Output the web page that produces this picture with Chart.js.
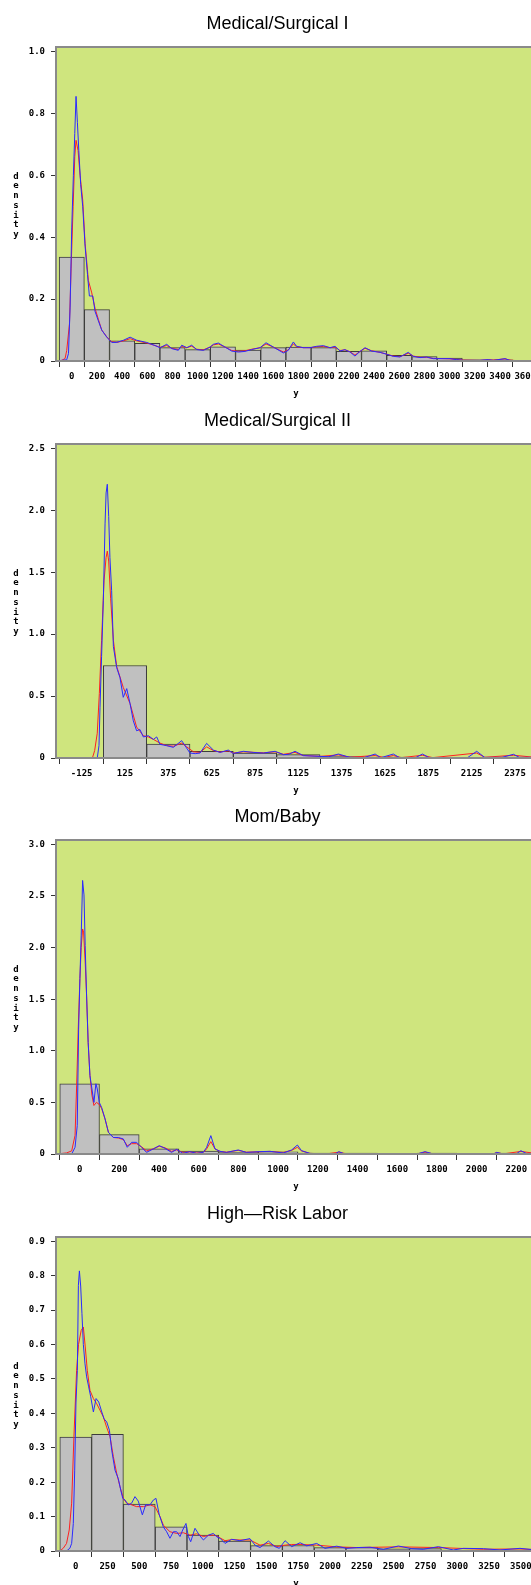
<!DOCTYPE html>
<html>
<head>
<meta charset="utf-8">
<script src="https://cdn.jsdelivr.net/npm/chart.js@4/dist/chart.umd.min.js"></script>
<style>
  html, body { margin: 0; padding: 0; background: #fff; overflow: hidden; }
  body { width: 531px; height: 1585px; position: relative; }
  canvas { position: absolute; left: 0; }
</style>
</head>
<body>
<canvas id="c1" width="555" height="400" style="top:0px"></canvas>
<canvas id="c2" width="555" height="400" style="top:397px"></canvas>
<canvas id="c3" width="555" height="400" style="top:793px"></canvas>
<canvas id="c4" width="555" height="400" style="top:1190px"></canvas>
<script>
// ---- Medical/Surgical I ----
const p1Title = 'Medical/Surgical I';
const p1BinStart = -100, p1BinWidth = 200;
const p1Bins = [0.336, 0.166, 0.065, 0.057, 0.043, 0.037, 0.046, 0.035, 0.043, 0.045, 0.043, 0.031, 0.033, 0.018, 0.014, 0.0097, 0.004, 0.004];
const p1XTicks = [0, 200, 400, 600, 800, 1000, 1200, 1400, 1600, 1800, 2000, 2200, 2400, 2600, 2800, 3000, 3200, 3400, 3600];
const p1YTicks = [0, 0.2, 0.4, 0.6, 0.8, 1.0];
const p1Blue = [[-125,0],[-40,0.004],[-26,0.024],[-13,0.174],[0,0.43],[13,0.6],[24,0.735],[34,0.855],[45,0.77],[56,0.68],[71,0.57],[87,0.5],[106,0.37],[125,0.28],[140,0.21],[167,0.21],[185,0.16],[211,0.13],[238,0.1],[278,0.077],[317,0.06],[357,0.06],[410,0.067],[463,0.077],[516,0.067],[595,0.06],[661,0.05],
  [701,0.043],[754,0.054],[794,0.04],[846,0.0345],[873,0.051],[913,0.043],[952,0.051],[992,0.037],[1045,0.0345],[1098,0.045],[1124,0.054],[1164,0.058],[1217,0.045],[1270,0.032],[1323,0.029],[1375,0.031],[1428,0.037],[1495,0.043],[1542,0.059],[1600,0.045],[1680,0.026],[1719,0.0345],[1759,0.0615],[1785,0.0475],[1838,0.043],[1891,0.043],[1944,0.0475],[1997,0.0496],[2050,0.043],[2090,0.0475],[2129,0.0324],[2169,0.0367],[2209,0.029],[2248,0.016],[2288,0.031],[2328,0.043],[2381,0.032],[2447,0.028],[2500,0.022],[2552,0.015],[2605,0.013],[2671,0.028],[2711,0.015],[2764,0.011],[2817,0.013],[2870,0.0076],[2923,0.0076],[3002,0.0076],[3055,0.0044],[3108,0.0022],[3240,0.0022],[3306,0.0044],[3346,0.002],[3439,0.0076],[3478,0.002],[3560,0],[3685,0]];
const p1Red = [[-125,0],[-80,0.002],[-53,0.008],[-40,0.034],[-18,0.12],[-5,0.3],[11,0.5],[24,0.66],[34,0.713],[50,0.68],[66,0.6],[87,0.52],[106,0.38],[132,0.26],[159,0.22],[185,0.17],[211,0.135],[238,0.1],[278,0.078],[317,0.062],[357,0.06],[410,0.065],[463,0.072],[516,0.065],[595,0.058],[661,0.05],
  [701,0.044],[754,0.05],[794,0.041],[846,0.037],[873,0.047],[913,0.043],[952,0.048],[992,0.038],[1045,0.036],[1098,0.045],[1124,0.052],[1164,0.055],[1217,0.045],[1270,0.034],[1323,0.031],[1375,0.033],[1428,0.038],[1495,0.043],[1542,0.055],[1600,0.045],[1680,0.029],[1719,0.036],[1759,0.055],[1785,0.046],[1838,0.043],[1891,0.043],[1944,0.046],[1997,0.047],[2050,0.043],[2090,0.045],[2129,0.034],[2169,0.036],[2209,0.03],[2248,0.019],[2288,0.031],[2328,0.041],[2381,0.033],[2447,0.028],[2500,0.022],[2552,0.016],[2605,0.014],[2671,0.025],[2711,0.016],[2764,0.012],[2817,0.012],[2870,0.008],[2923,0.008],[3002,0.007],[3055,0.005],[3108,0.003],[3240,0.002],[3306,0.004],[3346,0.003],[3439,0.007],[3478,0.003],[3560,0],[3685,0]];

// ---- Medical/Surgical II ----
const p2Title = 'Medical/Surgical II';
const p2BinStart = 0, p2BinWidth = 250;
const p2Bins = [0.747, 0.113, 0.053, 0.04, 0.027, 0.013, 0.008, 0.005, 0.005, 0.008];
const p2XTicks = [-125, 125, 375, 625, 875, 1125, 1375, 1625, 1875, 2125, 2375];
const p2YTicks = [0, 0.5, 1.0, 1.5, 2.0, 2.5];
const p2Blue = [[-273,0],[-35,0],[-25,0.1],[-19,0.41],[-10,0.82],[0,1.27],[10,1.89],[16,2.14],[23,2.21],[31,1.95],[38,1.62],[48,1.35],[58,0.9],[77,0.73],[96,0.65],[115,0.49],[135,0.56],[154,0.44],[173,0.3],[192,0.22],[211,0.23],[231,0.17],[260,0.18],[289,0.15],[308,0.17],[327,0.11],[365,0.1],[404,0.086],[452,0.14],[471,0.1],[500,0.04],[530,0.035],[558,0.04],[596,0.118],[635,0.064],[673,0.045],[721,0.064],[750,0.037],[808,0.054],[865,0.045],[923,0.04],[991,0.054],[1039,0.027],[1070,0.03],[1106,0.054],[1154,0.019],[1250,0.013],[1300,0.01],[1356,0.032],[1423,0.005],[1500,0.002],[1568,0.032],[1600,0.002],[1673,0.032],[1710,0.002],[1800,0.002],[1841,0.032],[1880,0.002],[2100,0.002],[2154,0.054],[2200,0.005],[2300,0.005],[2366,0.03],[2400,0.005],[2496,0.005]];
const p2Red = [[-273,0],[-63,0],[-50,0.06],[-35,0.2],[-23,0.52],[-10,0.95],[4,1.43],[16,1.62],[23,1.67],[31,1.59],[42,1.29],[58,0.95],[77,0.74],[115,0.57],[154,0.44],[192,0.25],[231,0.18],[260,0.17],[289,0.15],[327,0.12],[365,0.1],[404,0.095],[452,0.12],[481,0.09],[520,0.05],[558,0.045],[596,0.09],[635,0.06],[673,0.048],[721,0.058],[750,0.04],[808,0.05],[923,0.042],[991,0.05],[1039,0.03],[1106,0.045],[1154,0.02],[1250,0.013],[1356,0.025],[1423,0.006],[1568,0.02],[1620,0.004],[1673,0.02],[1720,0.003],[1841,0.022],[1900,0.003],[2154,0.04],[2200,0.006],[2366,0.022],[2496,0.005]];

// ---- Mom/Baby ----
const p3Title = 'Mom/Baby';
const p3BinStart = -100, p3BinWidth = 200;
const p3Bins = [0.68, 0.187, 0.049, 0.028, 0.016, 0.022, 0.01, 0.01, 0, 0.01, 0, 0.01];
const p3XTicks = [0, 200, 400, 600, 800, 1000, 1200, 1400, 1600, 1800, 2000, 2200];
const p3YTicks = [0, 0.5, 1.0, 1.5, 2.0, 2.5, 3.0];
const p3Blue = [[-119,0],[-40,0],[-23,0.065],[-12,0.275],[-5,1.21],[1.5,1.7],[8,2.12],[15,2.65],[22,2.51],[28,2.02],[35,1.54],[43,1.08],[52,0.76],[62,0.63],[72,0.5],[82,0.68],[89,0.63],[99,0.5],[111,0.45],[128,0.34],[145,0.21],[170,0.16],[195,0.16],[220,0.146],[240,0.065],[262,0.113],[287,0.113],[312,0.065],[337,0.016],[371,0.049],[401,0.081],[430,0.055],[463,0.016],[489,0.045],[520,0.006],[555,0.023],[590,0.006],[623,0.016],[640,0.065],[661,0.178],[682,0.049],[707,0.026],[740,0.016],[799,0.039],[840,0.016],[908,0.023],[959,0.026],[1026,0.01],[1068,0.039],[1097,0.087],[1118,0.032],[1160,0.006],[1244,0],[1290,0.004],[1306,0.023],[1330,0.004],[1345,0],[1700,0],[1740,0.023],[1782,0],[2084,0],[2101,0.016],[2134,0],[2200,0.002],[2223,0.032],[2250,0.005],[2299,0.006]];
const p3Red = [[-119,0],[-66,0.01],[-40,0.03],[-23,0.18],[-15,0.66],[-7,1.21],[1.5,1.7],[8,2.0],[15,2.18],[20,2.15],[28,1.86],[35,1.54],[43,1.08],[52,0.76],[62,0.57],[72,0.47],[85,0.5],[99,0.48],[111,0.44],[128,0.34],[145,0.21],[170,0.16],[195,0.155],[220,0.14],[240,0.08],[262,0.1],[287,0.1],[312,0.07],[337,0.03],[371,0.05],[401,0.075],[430,0.06],[463,0.025],[489,0.04],[520,0.015],[555,0.02],[590,0.01],[623,0.015],[640,0.05],[661,0.12],[682,0.05],[707,0.025],[740,0.018],[799,0.035],[840,0.018],[908,0.022],[959,0.025],[1026,0.015],[1068,0.035],[1097,0.065],[1118,0.03],[1160,0.006],[1244,0.001],[1306,0.018],[1345,0.001],[1700,0.001],[1740,0.018],[1782,0.001],[2084,0.001],[2101,0.014],[2134,0.001],[2223,0.025],[2299,0.005]];

// ---- High-Risk Labor ----
const p4Title = 'High\u2014Risk Labor';
const p4BinStart = -125, p4BinWidth = 250;
const p4Bins = [0.331, 0.339, 0.1365, 0.0706, 0.0465, 0.029, 0.0155, 0.016, 0.0097, 0.0097, 0.006, 0.007, 0.003, 0.002, 0.003];
const p4XTicks = [0, 250, 500, 750, 1000, 1250, 1500, 1750, 2000, 2250, 2500, 2750, 3000, 3250, 3500];
const p4YTicks = [0, 0.1, 0.2, 0.3, 0.4, 0.5, 0.6, 0.7, 0.8, 0.9];
const p4Blue = [[-155,0],[-72,0],[-46,0.008],[-32,0.022],[-19,0.08],[-8,0.235],[2,0.43],[13,0.525],[21,0.772],[29,0.814],[39,0.77],[49,0.69],[60,0.6],[73,0.544],[86,0.506],[102,0.477],[118,0.448],[139,0.404],[160,0.443],[181,0.433],[205,0.404],[223,0.384],[244,0.375],[265,0.351],[283,0.293],[309,0.235],[335,0.21],[354,0.177],[370,0.153],[388,0.148],[414,0.134],[440,0.139],[466,0.158],[492,0.145],[524,0.105],[550,0.134],[584,0.134],[610,0.148],[631,0.153],[657,0.105],[689,0.07],[715,0.056],[741,0.037],[768,0.056],[794,0.056],[820,0.042],[841,0.061],[867,0.08],[886,0.042],[904,0.027],[938,0.066],[972,0.046],[1004,0.032],[1043,0.046],[1082,0.051],[1110,0.041],[1135,0.037],[1174,0.022],[1226,0.034],[1291,0.03],[1370,0.036],[1410,0.017],[1449,0.01],[1515,0.029],[1567,0.0126],[1601,0.0077],[1646,0.03],[1698,0.0126],[1764,0.024],[1816,0.015],[1895,0.022],[1960,0.0077],[2052,0.014],[2131,0.0077],[2209,0.01],[2314,0.011],[2419,0.0048],[2537,0.0145],[2642,0.0068],[2733,0.005],[2851,0.0126],[2969,0.003],[3048,0.0077],[3205,0.0068],[3336,0.003],[3493,0.0077],[3619,0.003]];
const p4Red = [[-155,0],[-124,0],[-98,0.008],[-72,0.022],[-51,0.061],[-32,0.139],[-14,0.332],[7,0.525],[22,0.6],[43,0.641],[60,0.651],[75,0.593],[91,0.525],[112,0.467],[139,0.443],[165,0.428],[191,0.409],[217,0.39],[243,0.36],[270,0.332],[296,0.274],[322,0.226],[348,0.187],[374,0.153],[401,0.139],[440,0.134],[479,0.129],[532,0.129],[584,0.134],[623,0.129],[663,0.1],[689,0.075],[741,0.056],[794,0.051],[846,0.053],[899,0.046],[951,0.05],[1004,0.042],[1056,0.046],[1095,0.046],[1174,0.03],[1226,0.033],[1291,0.032],[1370,0.032],[1449,0.017],[1515,0.022],[1580,0.013],[1646,0.017],[1698,0.019],[1764,0.019],[1895,0.017],[2052,0.012],[2209,0.01],[2537,0.012],[2851,0.01],[3205,0.005],[3493,0.006],[3619,0.004]];

const tickFont = { family: '"DejaVu Sans Mono", monospace', size: 9, weight: 'bold' };

// green plot area, grey frame, title and the stacked "density" label
const framePlugin = {
  id: 'frame',
  beforeDraw(chart) {
    const a = chart.chartArea, ctx = chart.ctx;
    ctx.save();
    ctx.fillStyle = '#cfe57e';
    ctx.fillRect(a.left, a.top, a.right - a.left, a.bottom - a.top);
    ctx.restore();
  },
  afterDraw(chart, args, opts) {
    const a = chart.chartArea, ctx = chart.ctx;
    ctx.save();
    ctx.strokeStyle = '#8a8a8a';
    ctx.lineWidth = 2;
    ctx.strokeRect(a.left, a.top, a.right - a.left, a.bottom - a.top);

    ctx.fillStyle = '#000';
    ctx.font = '18px "Liberation Sans", Arial, sans-serif';
    ctx.textAlign = 'center';
    ctx.textBaseline = 'alphabetic';
    ctx.fillText(opts.title, 277.5, 28.5);

    ctx.font = 'bold 9px "DejaVu Sans Mono", monospace';
    ctx.textBaseline = 'middle';
    const word = 'density';
    for (let i = 0; i < word.length; i++) {
      ctx.fillText(word[i], 16, 205.5 + (i - 3) * 9.7);
    }
    ctx.fillText('y', (a.left + a.right) / 2, a.bottom + 33);
    ctx.restore();
  }
};

function makeChart(id, title, binStart, binWidth, bins, red, blue, xMin, xMax, xTicks, yMax, yTicks) {
  const barData = bins.map((h, i) => ({ x: binStart + binWidth * (i + 0.5), y: h }));
  new Chart(document.getElementById(id), {
    type: 'bar',
    data: {
      datasets: [
        {
          type: 'line', data: blue.map(p => ({ x: p[0], y: p[1] })),
          borderColor: '#2a2aff', borderWidth: 1, pointRadius: 0, tension: 0, order: 1
        },
        {
          type: 'line', data: red.map(p => ({ x: p[0], y: p[1] })),
          borderColor: '#ff2020', borderWidth: 1, pointRadius: 0, tension: 0, order: 2
        },
        {
          type: 'bar', data: barData,
          backgroundColor: '#c0c0c0', borderColor: '#3c3c3c', borderWidth: 1,
          barPercentage: 1.0, categoryPercentage: 1.0, order: 3
        }
      ]
    },
    options: {
      responsive: false,
      animation: false,
      events: [],
      layout: { padding: { top: 47, right: 19, left: 0, bottom: 0 } },
      plugins: {
        legend: { display: false },
        title: { display: false },
        tooltip: { enabled: false },
        frame: { title: title }
      },
      scales: {
        x: {
          type: 'linear', min: xMin, max: xMax, offset: false,
          afterBuildTicks: s => { s.ticks = xTicks.map(v => ({ value: v })); },
          afterFit: s => { s.height = 39; },
          grid: { display: true, drawOnChartArea: false, drawTicks: true, tickLength: 6, color: '#333', lineWidth: 1 },
          border: { display: false },
          ticks: { font: tickFont, color: '#000', padding: 4, maxRotation: 0, autoSkip: false, callback: v => String(v) }
        },
        y: {
          type: 'linear', min: 0, max: yMax,
          afterBuildTicks: s => { s.ticks = yTicks.map(v => ({ value: v })); },
          afterFit: s => { s.width = 56; },
          grid: { display: true, drawOnChartArea: false, drawTicks: true, tickLength: 5, color: '#333', lineWidth: 1 },
          border: { display: false },
          ticks: { font: tickFont, color: '#000', padding: 6, autoSkip: false, callback: v => (v === 0 ? '0' : v.toFixed(1)) }
        }
      }
    },
    plugins: [framePlugin]
  });
}

makeChart('c1', p1Title, p1BinStart, p1BinWidth, p1Bins, p1Red, p1Blue, -125, 3685, p1XTicks, 1.0145, p1YTicks);
makeChart('c2', p2Title, p2BinStart, p2BinWidth, p2Bins, p2Red, p2Blue, -273, 2496, p2XTicks, 2.535, p2YTicks);
makeChart('c3', p3Title, p3BinStart, p3BinWidth, p3Bins, p3Red, p3Blue, -119, 2299, p3XTicks, 3.042, p3YTicks);
makeChart('c4', p4Title, p4BinStart, p4BinWidth, p4Bins, p4Red, p4Blue, -155, 3619, p4XTicks, 0.9125, p4YTicks);
</script>
</body>
</html>
